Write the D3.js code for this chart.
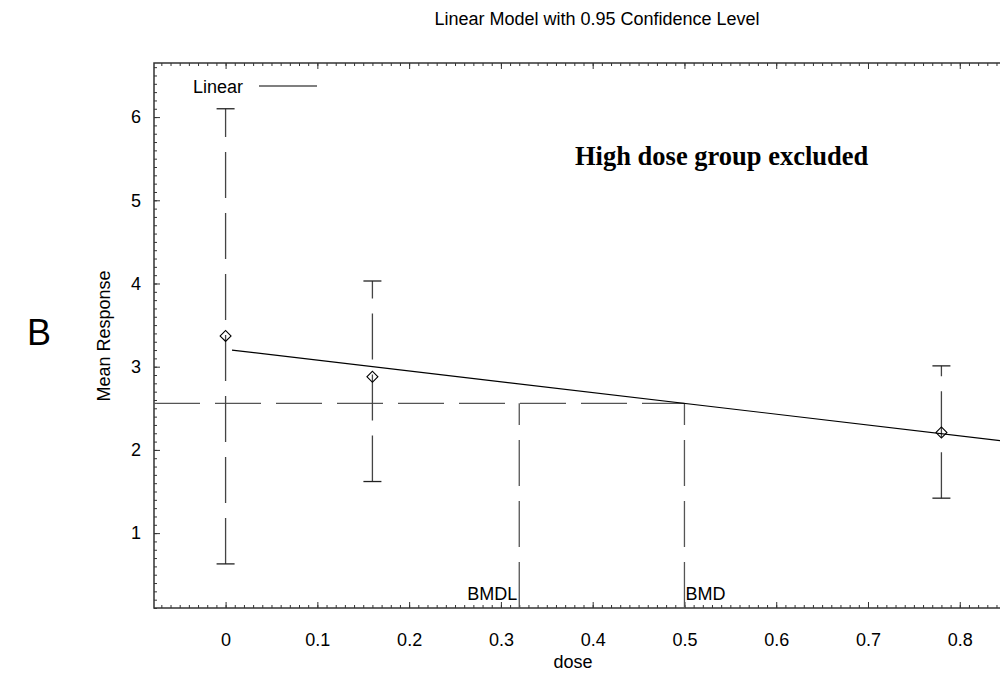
<!DOCTYPE html>
<html>
<head>
<meta charset="utf-8">
<script src="https://cdn.jsdelivr.net/npm/d3@7"></script>
<style>
	body { margin: 0; background: #fff; }
	text { font-family: Arial, 'Liberation Sans', sans-serif; fill: #000; }
</style>
</head>
<body>
<div id="chart"></div>
<script>
'use strict';

// dose groups, means and 95% confidence limits
const doses = [0, 0.16, 0.78];
const means = [3.37, 2.88, 2.21];
const lowerCI = [0.63, 1.62, 1.42];
const upperCI = [6.1, 4.03, 3.01];

// fitted linear model (end points of the drawn line)
const fitDose = [0.007, 0.858];
const fitMean = [3.2, 2.094];

// benchmark dose markers
const bmr = 2.56;
const bmd = 0.5;
const bmdl = 0.32;

const xTicks = [0, 0.1, 0.2, 0.3, 0.4, 0.5, 0.6, 0.7, 0.8];
const yTicks = [1, 2, 3, 4, 5, 6];
const xDomain = [-0.078, 0.858];
const yDomain = [0.1, 6.65];

const w = 1000, h = 696;
const margins = { left: 154, top: 63, right: 1013, bottom: 608 };
const dash = '46,15';

const svg = d3.select('#chart').append('svg')
	.attr('width', w)
	.attr('height', h);

const x = d3.scaleLinear().domain(xDomain).range([margins.left, margins.right]);
const y = d3.scaleLinear().domain(yDomain).range([margins.bottom, margins.top]);

const minorX = d3.range(-7, 86).map(i => i / 100);
const minorY = d3.range(1, 67).map(i => i / 10);

// minor ticks first, then major ticks with labels
function addAxis(axis, transform, minor, major, labels) {
	svg.append('g')
		.attr('class', 'axis minor')
		.attr('transform', transform)
		.call(axis.tickValues(minor).tickSize(-3).tickFormat(''));
	const g = svg.append('g')
		.attr('class', 'axis major')
		.attr('transform', transform)
		.call(axis.tickValues(major).tickSize(-6).tickFormat(labels ? d3.format('') : ''));
	return g;
}

addAxis(d3.axisBottom(x).tickPadding(25), 'translate(0,' + margins.bottom + ')', minorX, xTicks, true);
addAxis(d3.axisTop(x), 'translate(0,' + margins.top + ')', minorX, xTicks, false);
addAxis(d3.axisLeft(y).tickPadding(13), 'translate(' + margins.left + ',0)', minorY, yTicks, true);
addAxis(d3.axisRight(y), 'translate(' + margins.right + ',0)', minorY, yTicks, false);

svg.selectAll('.axis .domain').remove();
svg.selectAll('.axis line').attr('stroke', '#333').attr('stroke-width', 1);
svg.selectAll('.axis text').style('font-size', '18px').style('font-family', 'Arial, "Liberation Sans", sans-serif');

// frame
svg.append('rect')
	.attr('x', margins.left)
	.attr('y', margins.top)
	.attr('width', margins.right - margins.left)
	.attr('height', margins.bottom - margins.top)
	.attr('fill', 'none')
	.attr('stroke', '#333')
	.attr('stroke-width', 1.5);

// BMR horizontal and BMD / BMDL verticals
svg.append('line')
	.attr('x1', x(xDomain[0])).attr('y1', y(bmr))
	.attr('x2', x(bmd)).attr('y2', y(bmr))
	.attr('stroke', '#555').attr('stroke-width', 1.3)
	.attr('stroke-dasharray', dash);

[bmdl, bmd].forEach(function (d) {
	svg.append('line')
		.attr('x1', x(d)).attr('y1', y(yDomain[0]))
		.attr('x2', x(d)).attr('y2', y(bmr))
		.attr('stroke', '#555').attr('stroke-width', 1.3)
		.attr('stroke-dasharray', dash);
});

svg.append('text')
	.attr('x', x(bmdl) - 2)
	.attr('y', 600)
	.style('text-anchor', 'end')
	.style('font-size', '18px')
	.text('BMDL');

svg.append('text')
	.attr('x', x(bmd) + 1)
	.attr('y', 600)
	.style('font-size', '18px')
	.text('BMD');

// error bars, drawn upward from the lower limit
const groups = doses.map((d, i) => ({ dose: d, mean: means[i], lo: lowerCI[i], hi: upperCI[i] }));

const bars = svg.append('g').attr('class', 'errorbars');
bars.selectAll('.bar')
	.data(groups)
	.enter()
	.append('line')
	.attr('x1', d => x(d.dose)).attr('y1', d => y(d.lo))
	.attr('x2', d => x(d.dose)).attr('y2', d => y(d.hi))
	.attr('stroke', '#444').attr('stroke-width', 1.3)
	.attr('stroke-dasharray', dash);

['lo', 'hi'].forEach(function (k) {
	bars.selectAll('.cap-' + k)
		.data(groups)
		.enter()
		.append('line')
		.attr('x1', d => x(d.dose) - 9).attr('x2', d => x(d.dose) + 9)
		.attr('y1', d => y(d[k])).attr('y2', d => y(d[k]))
		.attr('stroke', '#222').attr('stroke-width', 1.3);
});

// fitted line
const fit = fitDose.map((d, i) => ({ dose: d, mean: fitMean[i] }));
svg.append('path')
	.datum(fit)
	.attr('fill', 'none')
	.attr('stroke', '#000')
	.attr('stroke-width', 1.2)
	.attr('d', d3.line().x(d => x(d.dose)).y(d => y(d.mean)));

// mean markers
svg.selectAll('.dot')
	.data(groups)
	.enter()
	.append('path')
	.attr('class', 'dot')
	.attr('d', d3.symbol(d3.symbolSquare, 60))
	.attr('transform', d => 'translate(' + x(d.dose) + ',' + y(d.mean) + ') rotate(45)')
	.attr('fill', 'none')
	.attr('stroke', '#000')
	.attr('stroke-width', 1.1);

// legend
svg.append('text')
	.attr('x', 193)
	.attr('y', 93)
	.style('font-size', '18px')
	.text('Linear');
svg.append('line')
	.attr('x1', 259).attr('x2', 317)
	.attr('y1', 86).attr('y2', 86)
	.attr('stroke', '#555').attr('stroke-width', 1.3);

// titles and labels
svg.append('text')
	.attr('x', 597)
	.attr('y', 25)
	.style('text-anchor', 'middle')
	.style('font-size', '18px')
	.text('Linear Model with 0.95 Confidence Level');

svg.append('text')
	.attr('x', 575)
	.attr('y', 165)
	.style('font-family', '"Liberation Serif", "Times New Roman", serif')
	.style('font-weight', 'bold')
	.style('font-size', '26.5px')
	.text('High dose group excluded');

svg.append('text')
	.attr('transform', 'translate(110,336) rotate(-90)')
	.style('text-anchor', 'middle')
	.style('font-size', '18px')
	.text('Mean Response');

svg.append('text')
	.attr('x', 573)
	.attr('y', 668)
	.style('text-anchor', 'middle')
	.style('font-size', '18px')
	.text('dose');

svg.append('text')
	.attr('x', 27)
	.attr('y', 345)
	.style('font-size', '36px')
	.text('B');
</script>
</body>
</html>
